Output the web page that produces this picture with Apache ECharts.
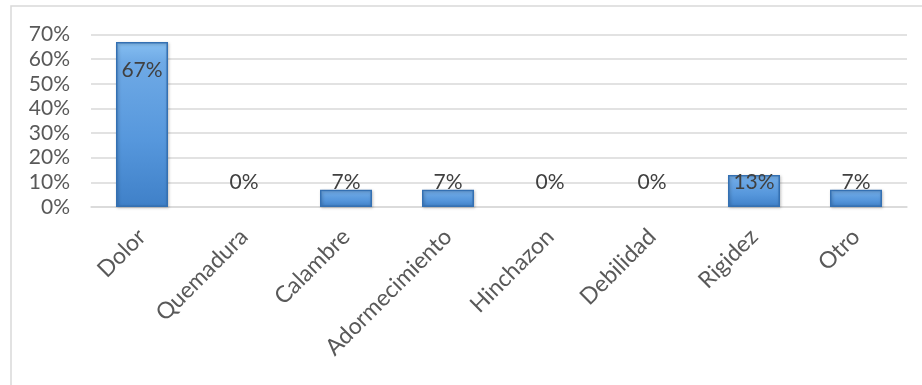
<!DOCTYPE html>
<html>
<head>
<meta charset="utf-8">
<script src="https://cdn.jsdelivr.net/npm/echarts@6/dist/echarts.min.js"></script>
<style>
  html, body { margin: 0; padding: 0; background: #ffffff; }
  #chart { width: 922px; height: 385px; }
</style>
</head>
<body>
<div id="chart"></div>
<script>
// Síntomas reportados (porcentaje de pacientes)
const categories = ['Dolor', 'Quemadura', 'Calambre', 'Adormecimiento', 'Hinchazon', 'Debilidad', 'Rigidez', 'Otro'];
const values = [67, 0, 7, 7, 0, 0, 13, 7];
const yTicks = { min: 0, max: 70, interval: 10 };

const FONT = 'Lato, "Noto Sans", sans-serif';
const TEXT = '#595959';

// Bevelled blue fill: lighter top, deeper base
const barFill = new echarts.graphic.LinearGradient(0, 0, 0, 1, [
  { offset: 0, color: '#86bff1' },
  { offset: 0.12, color: '#6faae6' },
  { offset: 0.6, color: '#5697dc' },
  { offset: 1, color: '#3f80c8' }
]);

const chart = echarts.init(document.getElementById('chart'));
chart.setOption({
  animation: false,
  backgroundColor: '#ffffff',
  graphic: [{
    type: 'rect',
    shape: { x: 11, y: 6, width: 930, height: 400 },
    style: { fill: 'none', stroke: '#d9d9d9', lineWidth: 1.5 },
    silent: true
  }],
  grid: { left: 91, top: 34.5, width: 816, height: 172.5, containLabel: false },
  xAxis: {
    type: 'category',
    data: categories,
    axisLine: { show: true, lineStyle: { color: '#d9d9d9', width: 1.5 } },
    axisTick: { show: false },
    axisLabel: {
      rotate: 45,
      margin: 26,
      fontFamily: FONT,
      fontSize: 23,
      color: TEXT,
      interval: 0
    }
  },
  yAxis: {
    type: 'value',
    min: yTicks.min,
    max: yTicks.max,
    interval: yTicks.interval,
    axisLine: { show: false },
    axisTick: { show: false },
    splitLine: { lineStyle: { color: '#d9d9d9', width: 1.5 } },
    axisLabel: {
      formatter: v => v + '%',
      fontFamily: FONT,
      fontSize: 21,
      color: TEXT,
      margin: 21
    }
  },
  series: [{
    type: 'bar',
    data: values.map((v, i) => ({
      value: v,
      itemStyle: v === 0 ? { borderWidth: 0, shadowBlur: 0, shadowOffsetX: 0, shadowOffsetY: 0 } : undefined,
      label: i === 0
        ? { position: 'insideTop', distance: 18 }
        : { position: 'insideBottom', distance: 14 }
    })),
    barWidth: 52,
    itemStyle: {
      color: barFill,
      borderColor: '#3470b2',
      borderWidth: 1.5,
      shadowColor: 'rgba(0,0,0,0.25)',
      shadowBlur: 3,
      shadowOffsetX: 1,
      shadowOffsetY: 1
    },
    label: {
      show: true,
      formatter: p => p.value + '%',
      fontFamily: FONT,
      fontSize: 21,
      color: '#404040'
    }
  }]
});
</script>
</body>
</html>
